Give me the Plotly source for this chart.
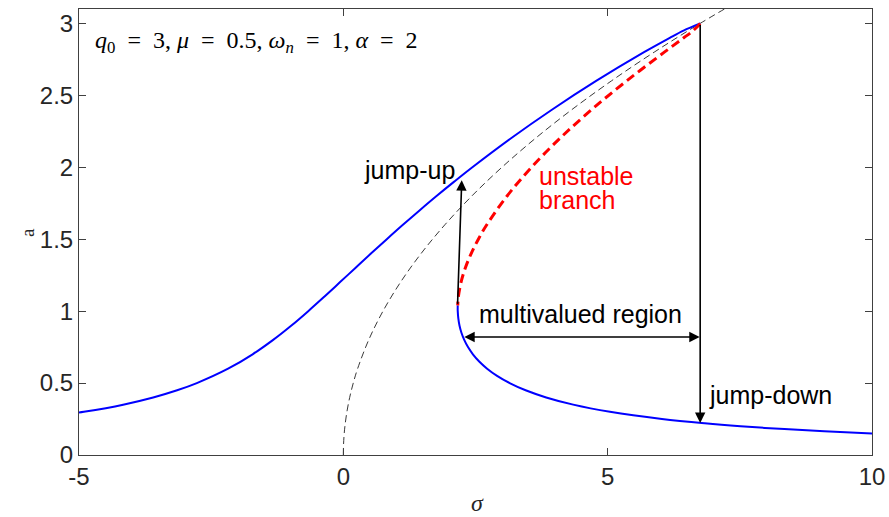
import plotly.graph_objects as go

# ---- data ----
# upper stable branch (a vs sigma)
a_upper = [0.295, 0.30, 0.35, 0.40, 0.45, 0.50, 0.60, 0.70, 0.80, 0.90, 1.00, 1.10, 1.20, 1.30,
           1.40, 1.50, 1.60, 1.70, 1.80, 1.90, 2.00, 2.20, 2.40, 2.60, 2.80, 2.90, 2.95, 3.00]
sigma_upper = [-5.00, -4.908, -4.165, -3.597, -3.144, -2.771, -2.180, -1.716, -1.327, -0.982,
               -0.664, -0.361, -0.066, 0.228, 0.522, 0.822, 1.127, 1.441, 1.763, 2.097, 2.441,
               3.166, 3.945, 4.782, 5.688, 6.175, 6.434, 6.75]

# unstable branch
a_unstable = [3.00, 2.95, 2.90, 2.80, 2.60, 2.40, 2.20, 2.00, 1.80, 1.60, 1.50, 1.40, 1.30,
              1.20, 1.10, 1.04]
sigma_unstable = [6.75, 6.619, 6.440, 6.072, 5.358, 4.695, 4.094, 3.559, 3.097, 2.713, 2.554,
                  2.418, 2.307, 2.226, 2.176, 2.164]

# lower stable branch
a_lower = [1.04, 1.02, 1.00, 0.95, 0.90, 0.85, 0.80, 0.75, 0.70, 0.65, 0.60, 0.55, 0.50, 0.45,
           0.40, 0.35, 0.30, 0.25, 0.22, 0.20, 0.18, 0.165, 0.15]
sigma_lower = [2.164, 2.163, 2.164, 2.175, 2.197, 2.234, 2.287, 2.358, 2.451, 2.570, 2.720,
               2.908, 3.146, 3.448, 3.837, 4.348, 5.043, 6.026, 6.836, 7.513, 8.343, 9.098,
               10.004]

# backbone curve
a_backbone = [0.0, 0.05, 0.10, 0.15, 0.20, 0.30, 0.40, 0.50, 0.60, 0.80, 1.00, 1.20, 1.40, 1.60,
              1.80, 2.00, 2.20, 2.40, 2.60, 2.80, 3.00, 3.20]
sigma_backbone = [0.0, 0.0019, 0.0075, 0.0169, 0.03, 0.0675, 0.12, 0.1875, 0.27, 0.48, 0.75,
                  1.08, 1.47, 1.92, 2.43, 3.0, 3.63, 4.32, 5.07, 5.88, 6.75, 7.68]

# arrows: (tail sigma, tail a) -> (head sigma, head a)
jump_up = [2.16, 1.04, 2.24, 1.91]
jump_down = [6.75, 3.0, 6.75, 0.223]
multi_region = [2.26, 0.82, 6.74, 0.82]

x_ticks = [-5, 0, 5, 10]
x_ticklabels = ["-5", "0", "5", "10"]
y_ticks = [0, 0.5, 1, 1.5, 2, 2.5, 3]
y_ticklabels = ["0", "0.5", "1", "1.5", "2", "2.5", "3"]

fig = go.Figure()
fig.add_trace(go.Scatter(x=sigma_backbone, y=a_backbone, mode="lines",
                         line=dict(color="#222222", width=0.9, dash="7px,4px", shape="spline"),
                         hoverinfo="skip", showlegend=False))
fig.add_trace(go.Scatter(x=sigma_upper, y=a_upper, mode="lines",
                         line=dict(color="#0000FF", width=2, shape="spline"),
                         showlegend=False))
fig.add_trace(go.Scatter(x=sigma_lower, y=a_lower, mode="lines",
                         line=dict(color="#0000FF", width=2, shape="spline"),
                         showlegend=False))
fig.add_trace(go.Scatter(x=sigma_unstable, y=a_unstable, mode="lines",
                         line=dict(color="#FF0000", width=3, dash="9px,5px", shape="spline"),
                         showlegend=False))

sans = "Liberation Sans, Arial, sans-serif"
serif = "Liberation Serif, Times New Roman, serif"
txt_size = 25
EN = "\u2002"

ann = []
# arrows
for (x0, y0, x1, y1) in [jump_up, jump_down]:
    ann.append(dict(x=x1, y=y1, ax=x0, ay=y0, xref="x", yref="y", axref="x", ayref="y",
                    text="", showarrow=True, arrowhead=2, arrowsize=1.3, arrowwidth=1.6,
                    arrowcolor="black"))
x0, y0, x1, y1 = multi_region
ann.append(dict(x=x1, y=y1, ax=x0, ay=y0, xref="x", yref="y", axref="x", ayref="y",
                text="", showarrow=True, arrowhead=2, startarrowhead=2, arrowside="end+start",
                arrowsize=1.3, startarrowsize=1.3, arrowwidth=1.6, arrowcolor="black"))
# text labels
ann.append(dict(x=2.15, y=1.98, xref="x", yref="y", text="jump-up", showarrow=False,
                xanchor="right", yanchor="middle", font=dict(family=sans, size=txt_size, color="black")))
ann.append(dict(x=3.66, y=1.94, xref="x", yref="y", text="unstable", showarrow=False,
                xanchor="left", yanchor="middle", font=dict(family=sans, size=txt_size, color="#FF0000")))
ann.append(dict(x=3.66, y=1.775, xref="x", yref="y", text="branch", showarrow=False,
                xanchor="left", yanchor="middle", font=dict(family=sans, size=txt_size, color="#FF0000")))
ann.append(dict(x=4.495, y=0.977, xref="x", yref="y", text="multivalued region", showarrow=False,
                xanchor="center", yanchor="middle", font=dict(family=sans, size=txt_size, color="black")))
ann.append(dict(x=6.88, y=0.418, xref="x", yref="y", text="jump-down", showarrow=False,
                xanchor="left", yanchor="middle", font=dict(family=sans, size=txt_size, color="black")))
param_text = ("<i>q</i><sub>0</sub>" + EN + "=" + EN + "3, <i>μ</i>" + EN + "=" + EN + "0.5, "
              "<i>ω<sub>n</sub></i>" + EN + "=" + EN + "1, <i>α</i>" + EN + "=" + EN + "2")
ann.append(dict(x=-4.73, y=2.87, xref="x", yref="y", text=param_text,
                showarrow=False, xanchor="left", yanchor="middle",
                font=dict(family=serif, size=24, color="black")))
# axis titles
ann.append(dict(x=-0.0656, y=0.5, xref="paper", yref="paper", text="a", textangle=-90,
                showarrow=False, xanchor="center", yanchor="middle",
                font=dict(family=serif, size=19, color="#262626")))
ann.append(dict(x=0.502, y=-0.108, xref="paper", yref="paper", text="<i>σ</i>",
                showarrow=False, xanchor="center", yanchor="middle",
                font=dict(family=serif, size=24, color="#262626")))

axis_common = dict(showline=True, mirror="ticks", linecolor="#404040", linewidth=1,
                   ticks="inside", ticklen=7, tickcolor="#404040", tickwidth=1,
                   showgrid=False, zeroline=False, automargin=False,
                   tickfont=dict(family=sans, size=24, color="#262626"))

fig.update_layout(
    width=889, height=517,
    margin=dict(l=79, r=17, t=9, b=62),
    paper_bgcolor="white", plot_bgcolor="white",
    xaxis=dict(range=[-5, 10], tickvals=x_ticks, ticktext=x_ticklabels, **axis_common),
    yaxis=dict(range=[0, 3.1], tickvals=y_ticks, ticktext=y_ticklabels, **axis_common),
    annotations=ann,
    showlegend=False,
)

fig.write_html("out.html")
